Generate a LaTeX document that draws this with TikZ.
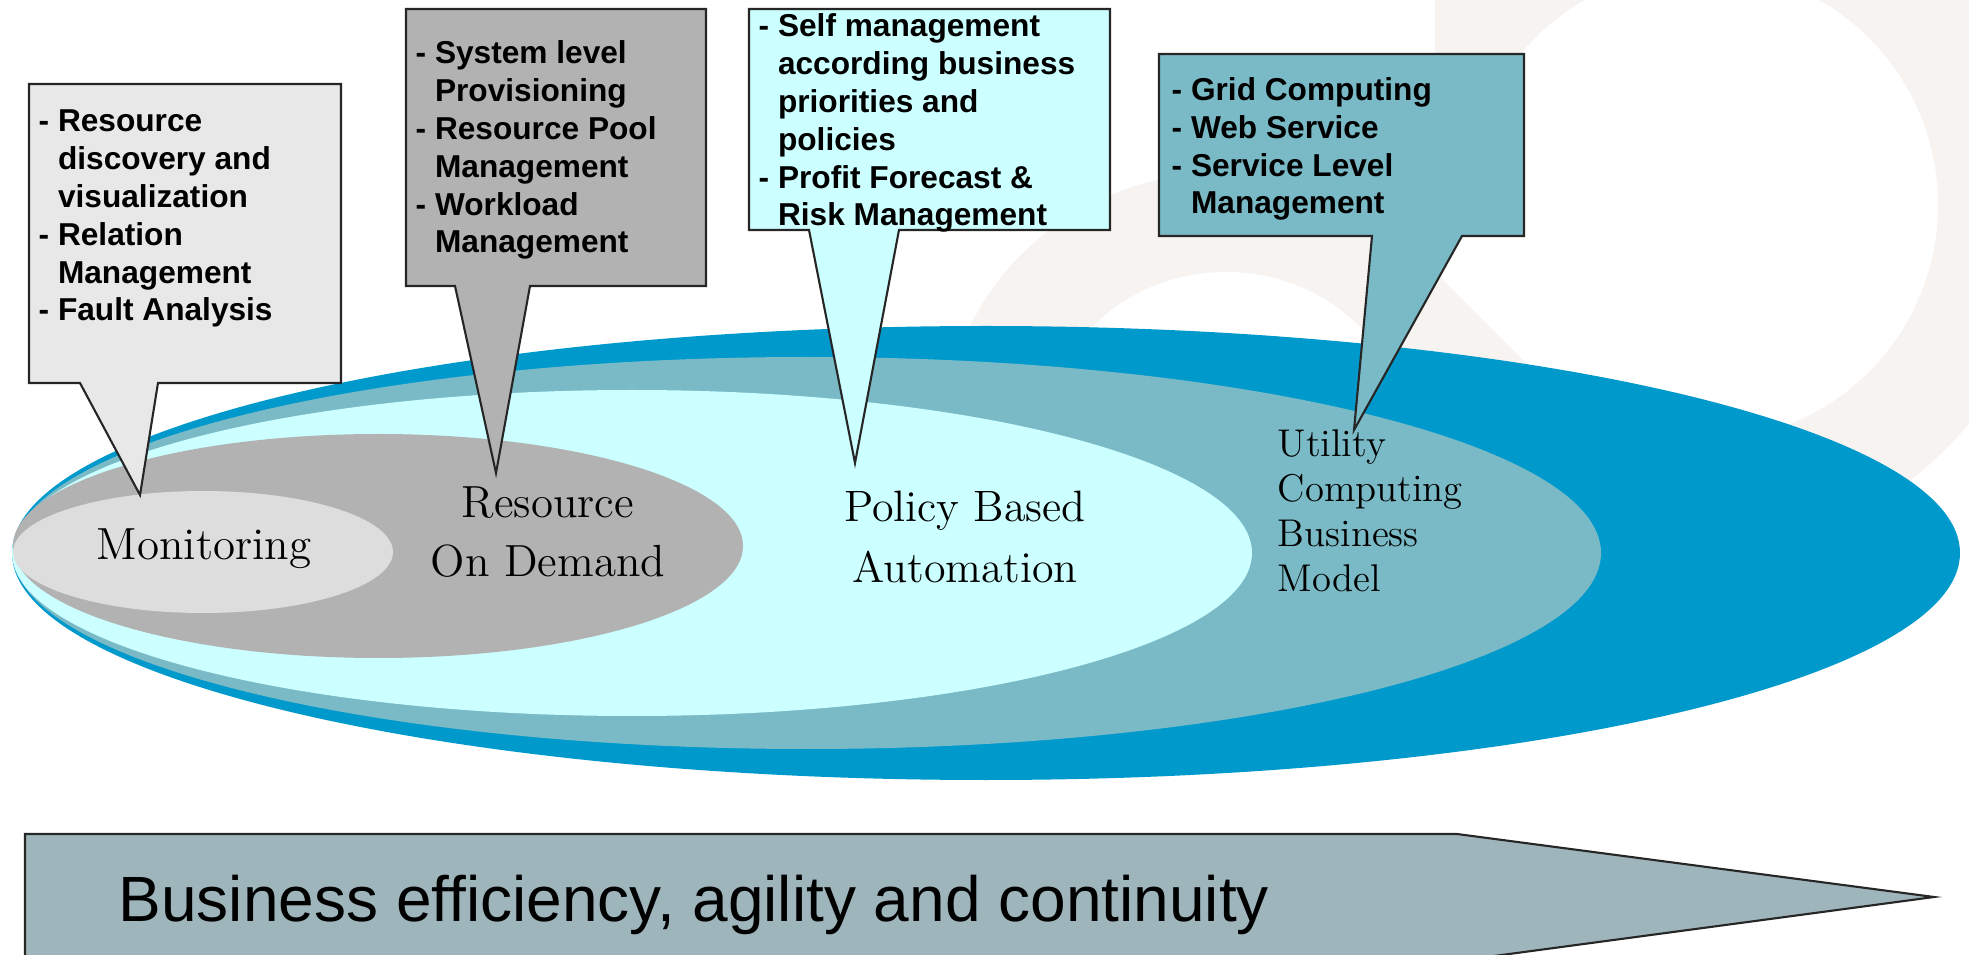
\documentclass[tikz,border=0pt]{standalone}
\usepackage{fontspec}
\setsansfont{Liberation Sans}
\usepackage{tikz}

\definecolor{ringblue}{RGB}{0,153,204}
\definecolor{ringteal}{RGB}{122,186,198}
\definecolor{ringcyan}{RGB}{204,255,255}
\definecolor{ringgray}{RGB}{178,178,178}
\definecolor{ringlight}{RGB}{221,221,221}
\definecolor{boxlight}{RGB}{232,232,232}
\definecolor{arrowgray}{RGB}{159,181,188}
\definecolor{wmark}{RGB}{246,243,240}

\newcommand{\indentitem}{\phantom{- }}

\begin{document}
\begin{tikzpicture}[x=0.01cm,y=-0.01cm,
  callout/.style={draw=black!85,line width=0.6pt,line join=miter},
  item text/.style={anchor=base west,align=left,inner sep=0pt,
    font=\sffamily\bfseries\fontsize{9}{10.8}\selectfont},
  ring label/.style={anchor=base,align=center,inner sep=0pt,
    font=\fontsize{12.8}{16.8}\selectfont}]

  \useasboundingbox (0,0) rectangle (1969,955);
  \clip (0,0) rectangle (1969,955);

  % faint watermark behind the rings
  \begin{scope}
    \clip (1435,0) rectangle (1969,955);
    \fill[wmark] (1702,205) circle (345);
  \end{scope}
  \fill[wmark] (1226,432) ellipse [x radius=280,y radius=260];
  \fill[white] (1702,205) circle (236);
  \fill[white] (1226,432) ellipse [x radius=177,y radius=160];
  \fill[white] (1440,277) -- (1524,361) -- (1702,205) -- (1480,140) -- cycle;

  \fill[ringblue]  (986,553) ellipse [x radius=974,y radius=227];
  \fill[ringteal]  (807,553) ellipse [x radius=794,y radius=196];
  \fill[ringcyan]  (632,553) ellipse [x radius=620,y radius=163];
  \fill[ringgray]  (378,546) ellipse [x radius=365,y radius=112];
  \fill[ringlight] (203,552) ellipse [x radius=190,y radius=61];

  % callouts
  \draw[callout,fill=boxlight] (29,84) -- (341,84) -- (341,383) -- (158,383)
    -- (140,495) -- (80,383) -- (29,383) -- cycle;
  \draw[callout,fill=ringgray] (406,9) -- (706,9) -- (706,286) -- (530,286)
    -- (496,473) -- (455,286) -- (406,286) -- cycle;
  \draw[callout,fill=ringcyan] (749,9) -- (1110,9) -- (1110,230) -- (899,230)
    -- (855,463) -- (809,230) -- (749,230) -- cycle;
  \draw[callout,fill=ringteal] (1159,54) -- (1524,54) -- (1524,236) -- (1462,236)
    -- (1354,430) -- (1372,236) -- (1159,236) -- cycle;

  % last baselines of the item lists
  \node[item text] (monitor items) at (38,321)
    {- Resource\\\indentitem discovery and\\\indentitem visualization\\- Relation\\\indentitem Management\\- Fault Analysis};
  \node[item text] (demand items) at (415,253)
    {- System level\\\indentitem Provisioning\\- Resource Pool\\\indentitem Management\\- Workload\\\indentitem Management};
  \node[item text] (policy items) at (758,226)
    {- Self management\\\indentitem according business\\\indentitem priorities and\\\indentitem policies\\- Profit Forecast \&\\\indentitem Risk Management};
  \node[item text] (utility items) at (1171,214)
    {- Grid Computing\\- Web Service\\- Service Level\\\indentitem Management};

  % ring labels
  \node[ring label] (monitoring) at (204,560) {Monitoring};
  \node[ring label] (on demand) at (548,577) {Resource\\On Demand};
  \node[ring label,font=\fontsize{12.5}{17.4}\selectfont] (policy) at (965,583) {Policy Based\\Automation};
  \node[ring label,anchor=base west,align=left,font=\fontsize{11}{12.8}\selectfont]
    (utility) at (1277,592) {Utility\\Computing\\Business\\Model};

  % bottom arrow
  \draw[callout,fill=arrowgray] (25,834) -- (1457,834) -- (1934,897) -- (1457,961)
    -- (25,961) -- cycle;
  \node[anchor=base west,inner sep=0pt,font=\sffamily\fontsize{18.2}{21}\selectfont]
    (benefit) at (118,921) {Business efficiency, agility and continuity};
\end{tikzpicture}
\end{document}
